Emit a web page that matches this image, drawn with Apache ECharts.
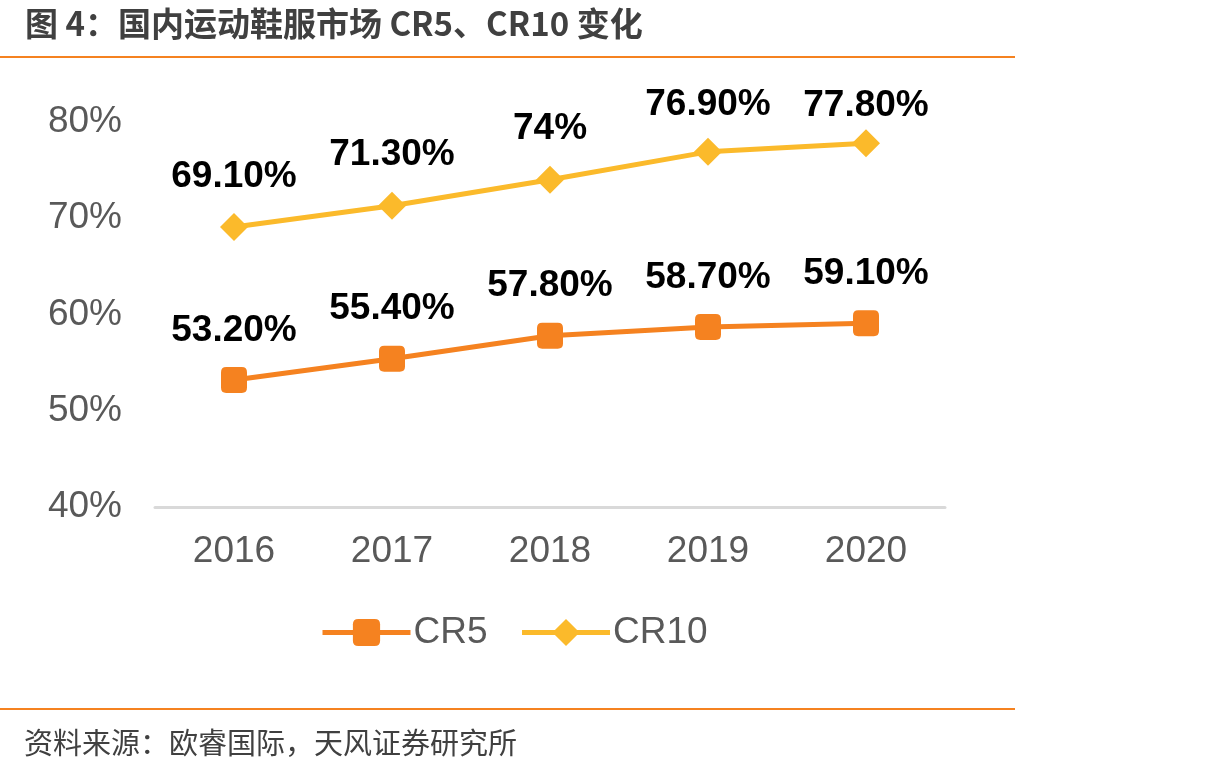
<!DOCTYPE html>
<html><head><meta charset="utf-8">
<script src="https://cdn.jsdelivr.net/npm/echarts@6/dist/echarts.min.js"></script>
<style>html,body{margin:0;padding:0;background:#fff}#c{width:1214px;height:771px}</style>
</head><body><div id="c"></div>
<script>
const categories = ['2016','2017','2018','2019','2020'];
const cr5 = [53.2, 55.4, 57.8, 58.7, 59.1];
const cr10 = [69.1, 71.3, 74, 76.9, 77.8];
const cr5Labels = ['53.20%','55.40%','57.80%','58.70%','59.10%'];
const cr10Labels = ['69.10%','71.30%','74%','76.90%','77.80%'];
const yTicks = [40, 50, 60, 70, 80];

const chart = echarts.init(document.getElementById('c'), null, {renderer:'canvas'});
const numFont = '"Liberation Sans", Arial, sans-serif';
const cjkFont = '"Noto Sans CJK SC", sans-serif';
// labels near the top of the plot are pushed down to stay inside the plot area
const labelDist = [18, 18, 18, 15, 5];
chart.setOption({
  animation: false,
  backgroundColor: '#fff',
  title: [{
    text: '图 4：国内运动鞋服市场 CR5、CR10 变化',
    left: 20, top: 2,
    textStyle: {fontFamily: cjkFont, fontSize: 33, fontWeight: 'bold', color: '#404040'}
  }, {
    text: '资料来源：欧睿国际，天风证券研究所',
    left: 19, top: 723,
    textStyle: {fontFamily: cjkFont, fontSize: 29, fontWeight: 'normal', color: '#404040'}
  }],
  graphic: [
    {type:'line', shape:{x1:0,y1:57,x2:1015,y2:57}, style:{stroke:'#F58220', lineWidth:2}},
    {type:'line', shape:{x1:0,y1:709,x2:1015,y2:709}, style:{stroke:'#F58220', lineWidth:2}}
  ],
  grid: {left: 155, top: 122, width: 790, height: 385, containLabel: false},
  legend: {
    left: 315, top: 609,
    itemWidth: 88, itemHeight: 34, itemGap: 32,
    lineStyle: {width: 5},
    textStyle: {fontFamily: numFont, fontSize: 37, color: '#595959', padding:[0,0,0,-2]},
    data: ['CR5', 'CR10']
  },
  xAxis: {
    type: 'category', data: categories, boundaryGap: true,
    axisLine: {show: true, lineStyle: {color: '#D9D9D9', width: 3}},
    axisTick: {show: false},
    axisLabel: {fontFamily: numFont, fontSize: 37, color: '#595959', margin: 26}
  },
  yAxis: {
    type: 'value', min: 40, max: 80, interval: 10,
    axisLine: {show: false}, axisTick: {show: false}, splitLine: {show: false},
    axisLabel: {fontFamily: numFont, fontSize: 37, color: '#595959', margin: 33,
      formatter: v => yTicks.includes(v) ? v + '%' : ''}
  },
  series: [{
    name: 'CR5', type: 'line', data: cr5,
    symbol: 'path://M2,0 H8 Q10,0 10,2 V8 Q10,10 8,10 H2 Q0,10 0,8 V2 Q0,0 2,0 Z', symbolSize: 26,
    lineStyle: {color: '#F58220', width: 5},
    itemStyle: {color: '#F58220'},
    label: {show: true, position: 'top', distance: 18,
      formatter: p => cr5Labels[p.dataIndex],
      fontFamily: numFont, fontSize: 37, fontWeight: 'bold', color: '#000'}
  }, {
    name: 'CR10', type: 'line',
    data: cr10.map((v, i) => ({value: v, label: {distance: labelDist[i]}})),
    symbol: 'diamond', symbolSize: 28,
    lineStyle: {color: '#FBBA2B', width: 5},
    itemStyle: {color: '#FBBA2B'},
    label: {show: true, position: 'top', distance: 18,
      formatter: p => cr10Labels[p.dataIndex],
      fontFamily: numFont, fontSize: 37, fontWeight: 'bold', color: '#000'}
  }]
});
</script></body></html>
